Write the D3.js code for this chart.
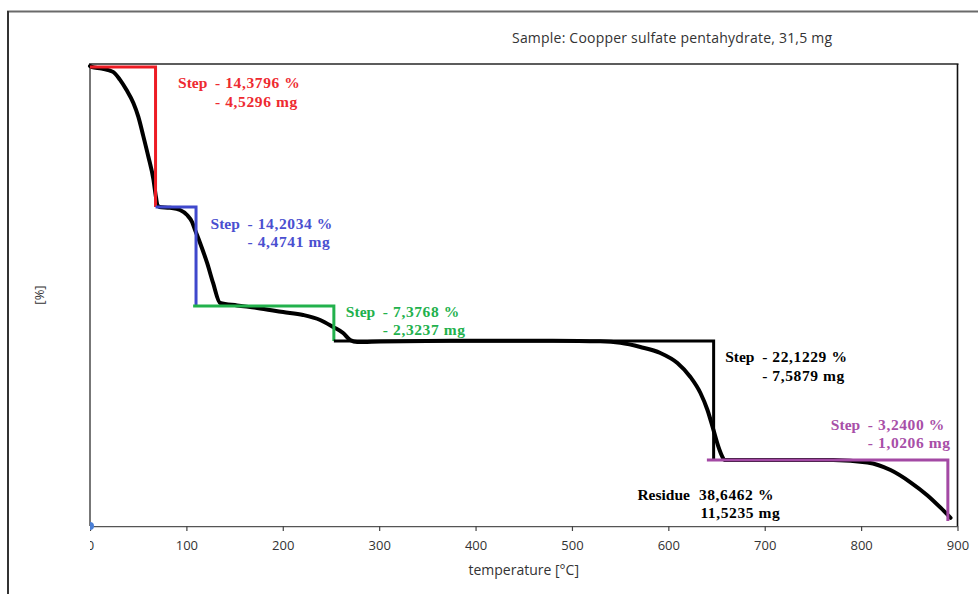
<!DOCTYPE html>
<html>
<head>
<meta charset="utf-8">
<script src="https://cdn.jsdelivr.net/npm/d3@7"></script>
<style>
  html, body { margin: 0; padding: 0; background: #fff; }
  svg { display: block; }
</style>
</head>
<body>
<svg id="chart" width="978" height="594"></svg>
<script>
// TG curve of copper sulfate pentahydrate: temperature [°C] against remaining mass [%]
const curveTemp = [0, 2, 12, 23.9, 31, 38.1, 45, 50.1, 55.3, 60.5, 65.7, 68.5, 69.9, 72,
  83, 93.4, 100.7, 105.9, 109, 114.2, 121.5, 127.7, 135,
  152.6, 173.4, 200.4, 221.1, 238.8, 252.3, 262.6, 269.9, 277.2,
  301, 373.7, 425.6, 480, 529.4, 550.2, 571, 591.7, 609.4, 622.9, 633.3, 640.6, 646.8, 652, 656.1, 658,
  700, 771.3, 806.6, 830.5, 851.2, 868.9, 882.4, 892.8];
const curveMass = [100.1, 100, 99.85, 99.5, 98.7, 97.6, 96.3, 94.9, 92.9, 90.8, 88.5, 86.6, 85.83, 85.62,
  85.5, 85.19, 84.47, 83.47, 82.32, 80.46, 77.59, 74.72, 71.85,
  71.5, 71.0, 70.15, 69.52, 68.47, 66.99, 65.73, 64.25, 63.85,
  63.95, 64.1, 64.12, 64.1, 63.98, 63.7, 62.92, 61.81, 59.95, 57.35, 54.37, 51.21, 47.5, 44.34, 42.48, 41.92,
  41.92, 41.92, 41.78, 41.38, 40.73, 40.03, 39.38, 38.84];

// Evaluated mass-loss steps
const stepLossPct = [14.3796, 14.2034, 7.3768, 22.1229, 3.2400];
const stepLossMg = [4.5296, 4.4741, 2.3237, 7.5879, 1.0206];
const stepFromTemp = [0, 68, 107, 253, 640];
const stepToTemp = [68, 110, 253, 647, 890];
const residuePct = 38.6462;
const residueMg = 11.5235;

const xTicks = [0, 100, 200, 300, 400, 500, 600, 700, 800, 900];
const sampleText = "Sample: Coopper sulfate pentahydrate, 31,5 mg";
const xTitle = "temperature [°C]";
const yTitle = "[%]";

// ---- styling / layout ----
const stepColors = ["#ed1c24", "#3f48cc", "#22b14c", "#000000", "#a349a4"];
const labelColors = ["#ee2a30", "#4a4fd0", "#22b14c", "#000000", "#a84fa8"];
const labelShift = [[22.5, 21], [14.5, 22], [12, 11], [11.5, 21], [-117, -30]];
// vertical spacing of the plateau levels inside the plot (fraction of plot height)
const levelSpacing = [0.0065, 0.3095, 0.5238, 0.5996, 0.857, 0.989];

const plot = { left: 90, right: 957.5, top: 64, bottom: 526 };
const svg = d3.select("#chart");

// plateau levels derived from the step losses
const levels = [100];
stepLossPct.forEach((d, i) => levels.push(levels[i] - d));

const x = d3.scaleLinear().domain([0, 900]).range([plot.left, plot.right]);
const y = d3.scaleLinear()
  .domain(levels)
  .range(levelSpacing.map(f => plot.top + f * (plot.bottom - plot.top)));

const comma = v => d3.format(".4f")(v).replace(".", ",");
const sans = "'Open Sans', 'Noto Sans', sans-serif";
const serif = "'Liberation Serif', 'Times New Roman', serif";

// outer frame
svg.append("path").attr("d", "M8,594V11.5H978").attr("fill", "none")
  .attr("stroke", "#6a6a6a").attr("stroke-width", 2);
svg.append("line").attr("x1", 8).attr("x2", 8).attr("y1", 11).attr("y2", 594)
  .attr("stroke", "#222").attr("stroke-width", 1.5);

// clip region: everything left of the y axis is hidden
svg.append("clipPath").attr("id", "rightOfAxis")
  .append("rect").attr("x", plot.left).attr("y", 0).attr("width", 978 - plot.left).attr("height", 594);

// plot frame
svg.append("line").attr("x1", plot.left - 1).attr("x2", plot.right + 1)
  .attr("y1", plot.top).attr("y2", plot.top).attr("stroke", "#5c5c5c").attr("stroke-width", 2);
svg.append("line").attr("x1", plot.right).attr("x2", plot.right)
  .attr("y1", plot.top).attr("y2", plot.bottom).attr("stroke", "#111").attr("stroke-width", 1.6);
svg.append("line").attr("x1", plot.left).attr("x2", plot.left)
  .attr("y1", plot.top).attr("y2", plot.bottom).attr("stroke", "#4a4a4a").attr("stroke-width", 1.5);

// x axis
const xAxis = svg.append("g")
  .attr("transform", `translate(0,${plot.bottom})`)
  .attr("clip-path", "url(#rightOfAxis)")
  .call(d3.axisBottom(x).tickValues(xTicks).tickSize(5).tickSizeOuter(0).tickPadding(10).tickFormat(d3.format("d")));
xAxis.select(".domain").attr("stroke", "#555").attr("stroke-width", 1.5);
xAxis.selectAll(".tick line").attr("stroke", "#444").attr("stroke-width", 1.2);
xAxis.selectAll(".tick text")
  .attr("font-family", sans).attr("font-size", 13).attr("fill", "#333");

// axis titles and sample line
svg.append("text").attr("x", (plot.left + plot.right) / 2).attr("y", 575)
  .attr("text-anchor", "middle").attr("font-family", sans)
  .attr("font-size", 14).attr("fill", "#333").text(xTitle);
svg.append("text").attr("transform", `translate(44,${(plot.top + plot.bottom) / 2}) rotate(-90)`)
  .attr("text-anchor", "middle").attr("font-family", sans)
  .attr("font-size", 13).attr("fill", "#333").text(yTitle);
svg.append("text").attr("x", 512).attr("y", 43)
  .attr("font-family", sans).attr("font-size", 14)
  .attr("textLength", 320).attr("lengthAdjust", "spacing")
  .attr("fill", "#333").text(sampleText);

// TG curve
const curvePts = curveTemp.map((t, i) => [t, curveMass[i]]);
svg.append("path").datum(curvePts)
  .attr("fill", "none").attr("stroke", "#000").attr("stroke-width", 4)
  .attr("stroke-linejoin", "round").attr("stroke-linecap", "round")
  .attr("d", d3.line().x(d => x(d[0])).y(d => y(d[1])).curve(d3.curveMonotoneX));

// step brackets
stepLossPct.forEach((loss, i) => {
  const pts = [[stepFromTemp[i], levels[i]], [stepToTemp[i], levels[i]], [stepToTemp[i], levels[i + 1]]];
  svg.append("path").datum(pts)
    .attr("fill", "none").attr("stroke", stepColors[i]).attr("stroke-width", 3)
    .attr("stroke-linejoin", "miter")
    .attr("d", d3.line().x(d => x(d[0])).y(d => y(d[1])));
});

// step labels
stepLossPct.forEach((loss, i) => {
  const x0 = x(stepToTemp[i]) + labelShift[i][0];
  const y0 = y(levels[i]) + labelShift[i][1];
  const g = svg.append("g").attr("font-family", serif).attr("font-weight", "bold")
    .attr("font-size", 15.5).attr("fill", labelColors[i]);
  g.append("text").attr("x", x0).attr("y", y0).text("Step");
  g.append("text").attr("x", x0 + 37).attr("y", y0).attr("letter-spacing", 0.6)
    .text(`- ${comma(loss)} %`);
  g.append("text").attr("x", x0 + 37).attr("y", y0 + 18.5).attr("letter-spacing", 0.6)
    .text(`- ${comma(stepLossMg[i])} mg`);
});

// residue label
{
  const x0 = x(stepFromTemp[4]) - 69.5;
  const y0 = y(levels[5]) - 21;
  const g = svg.append("g").attr("font-family", serif).attr("font-weight", "bold")
    .attr("font-size", 15.5).attr("fill", "#000");
  g.append("text").attr("x", x0).attr("y", y0).text("Residue");
  g.append("text").attr("x", x0 + 61.5).attr("y", y0).attr("letter-spacing", 0.6)
    .text(`${comma(residuePct)} %`);
  g.append("text").attr("x", x0 + 63).attr("y", y0 + 18).attr("letter-spacing", 0.6)
    .text(`${comma(residueMg)} mg`);
}

// origin marker
svg.append("circle").attr("cx", x(0)).attr("cy", plot.bottom).attr("r", 4)
  .attr("fill", "#4a7fd6").attr("clip-path", "url(#rightOfAxis)");
</script>
</body>
</html>
